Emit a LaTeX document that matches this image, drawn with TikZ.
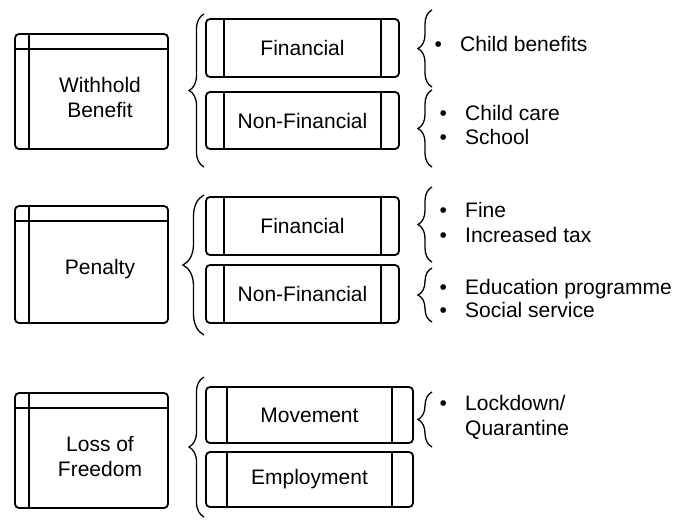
\documentclass[tikz,border=0pt]{standalone}
\usepackage{fontspec}
\setmainfont{Liberation Sans}
\usetikzlibrary{decorations.pathreplacing}

\tikzset{
  catbox/.style={draw, line width=1.8pt, rounded corners=4pt, minimum width=153pt, minimum height=#1, inner sep=0pt},
  subbox/.style={draw, line width=1.8pt, rounded corners=4pt, minimum width=193pt, minimum height=#1, inner sep=0pt},
  widebox/.style={subbox=#1, minimum width=207pt},
  catlabel/.style={align=center, inner sep=0pt},
  itemtext/.style={anchor=base west, inner sep=0pt, align=left},
  curly/.style={decorate, decoration={brace, amplitude=#1}, line width=1.3pt},
  curly/.default=14pt,
}
\newcommand{\bul}{\makebox[25.5pt][l]{\textbullet}}

\begin{document}
\begin{tikzpicture}[x=1pt, y=-1pt, font=\fontsize{21}{25}\selectfont]
    \useasboundingbox (0,0) rectangle (687,519);
    % categories
    \node[catbox=115pt] (wb) at (91.5,91.5) {};
    \node[catbox=117pt] (pe) at (91.5,264.5) {};
    \node[catbox=115pt] (lf) at (91.5,450.5) {};
    \foreach \n in {wb,pe,lf}
        \draw[line width=1.8pt] ([xshift=15pt]\n.north west) -- ([xshift=15pt]\n.south west)
            ([yshift=-16pt]\n.north west) -- ([yshift=-16pt]\n.north east);
    \node[catlabel] (wbt) at (100,97.5) {Withhold\\Benefit};
    \node[catlabel] (pet) at (100,269) {Penalty};
    \node[catlabel] (lft) at (100,456.5) {Loss of\\Freedom};

    % sub types
    \node[subbox=58pt] (wbf) at (302.5,48) {Financial};
    \node[subbox=57pt] (wbn) at (302.5,120.5) {Non-Financial};
    \node[subbox=58pt] (pef) at (302.5,226) {Financial};
    \node[subbox=58pt] (pen) at (302.5,294) {Non-Financial};
    \foreach \n in {wbf,wbn,pef,pen}
        \draw[line width=1.8pt] ([xshift=19pt]\n.north west) -- ([xshift=19pt]\n.south west)
            ([xshift=-19pt]\n.north east) -- ([xshift=-19pt]\n.south east);
    \node[widebox=56pt] (lfm) at (309.5,415) {Movement};
    \node[widebox=55pt] (lfe) at (309.5,479.5) {Employment};
    \foreach \n in {lfm,lfe}
        \draw[line width=1.8pt] ([xshift=22pt]\n.north west) -- ([xshift=22pt]\n.south west)
            ([xshift=-22pt]\n.north east) -- ([xshift=-22pt]\n.south east);

    % braces
    \draw[curly=15pt] (204,167) -- (204,14);
    \draw[curly=21pt] (204,335) -- (204,195);
    \draw[curly=15pt] (204,517) -- (204,377);
    \draw[curly] (432,87) -- (432,10);
    \draw[curly] (432,167) -- (432,90);
    \draw[curly] (432,262) -- (432,187);
    \draw[curly] (432,322) -- (432,268);
    \draw[curly] (432,447) -- (432,392);

    % examples
    \node[itemtext] (cb) at (434.5,52) {\bul Child benefits};
    \foreach \y/\t in {120/Child care, 144/School, 217/Fine, 242/Increased tax,
                       294/Education programme, 317/Social service}
        \node[itemtext] (it\y) at (439.5,\y) {\bul\t};
    \node[itemtext] (lq) at (439.5,435) {\bul Lockdown/\\\hspace*{25.5pt}Quarantine};
\end{tikzpicture}
\end{document}
